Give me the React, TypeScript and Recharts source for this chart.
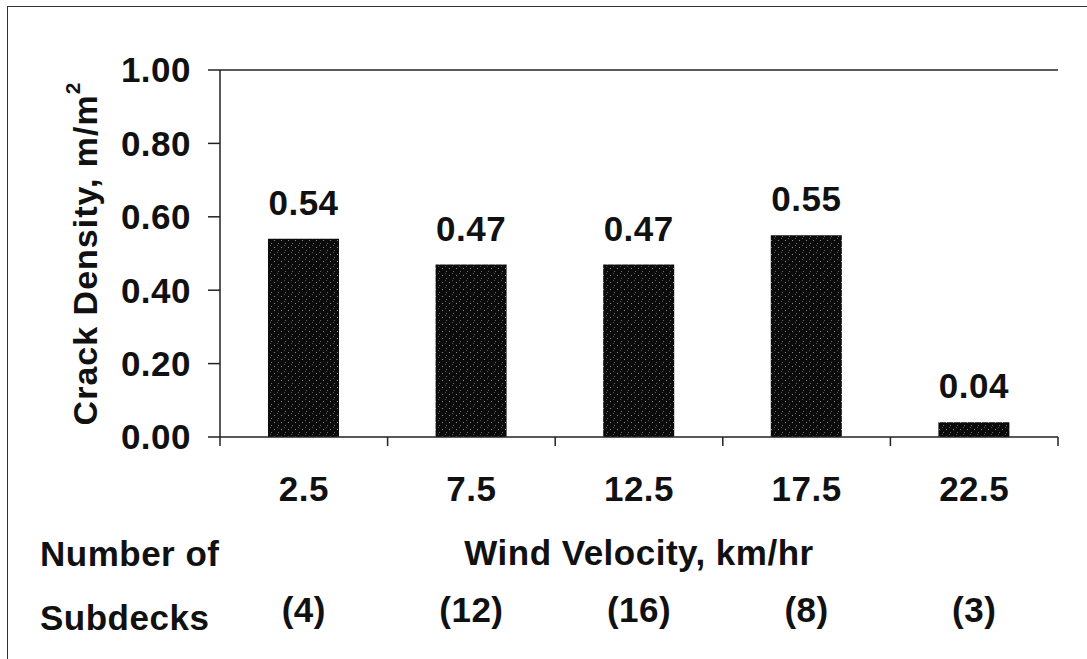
import React from "react";
import { BarChart, Bar, XAxis, YAxis, LabelList, ReferenceLine, Label } from "recharts";

// values
const windVelocity = ["2.5", "7.5", "12.5", "17.5", "22.5"];
const crackDensity = [0.54, 0.47, 0.47, 0.55, 0.04];
const subdeckCounts = [4, 12, 16, 8, 3];
const yTicks = [0, 0.2, 0.4, 0.6, 0.8, 1.0];
const boundaryTicks = [0, 1, 2, 3, 4, 5];

const data = windVelocity.map((w, i) => ({
  wind: w,
  density: crackDensity[i],
  subdecks: subdeckCounts[i],
  slot: i + 0.5,
}));

const FONT = "'Liberation Sans', Arial, sans-serif";
const INK = "#111";
const textStyle = {
  fontFamily: FONT,
  fontWeight: 700,
  fontSize: 35,
  letterSpacing: 0.5,
  fill: INK,
};

const WindTick = (props: any) => {
  const { x, y, payload } = props;
  return (
    <text x={x} y={y + 48} textAnchor="middle" style={textStyle}>
      {payload.value}
    </text>
  );
};

const CountTick = (props: any) => {
  const { x, y, payload } = props;
  return (
    <text x={x} y={y + 59} textAnchor="middle" style={textStyle}>
      ({payload.value})
    </text>
  );
};

export default function App() {
  return (
    <div
      style={{
        position: "fixed",
        top: 0,
        left: 0,
        width: 1087,
        height: 659,
        overflow: "hidden",
        background: "#fff",
      }}
    >
      <div
        style={{
          position: "absolute",
          left: 7,
          top: 6,
          width: 1200,
          height: 800,
          borderLeft: "1.5px solid #333",
          borderTop: "1.5px solid #333",
        }}
      />
      <div style={{ position: "absolute", left: 0, top: 0 }}>
        <BarChart
          width={1087}
          height={659}
          data={data}
          margin={{ top: 70, right: 29, left: 20, bottom: 0 }}
        >
          <defs>
            <pattern id="speckle" width="7" height="7" patternUnits="userSpaceOnUse">
              <rect width="7" height="7" fill="#0b0b0b" />
              <rect x="1" y="2" width="1" height="1" fill="#8a8a8a" />
              <rect x="5" y="5" width="1" height="1" fill="#6a6a6a" />
              <rect x="4" y="0" width="1" height="1" fill="#555" />
            </pattern>
          </defs>
          <XAxis
            xAxisId="a_frame"
            type="number"
            dataKey="slot"
            domain={[0, 5]}
            ticks={boundaryTicks}
            allowDataOverflow
            height={16}
            tickSize={9}
            tickFormatter={() => ""}
            axisLine={{ stroke: "#222", strokeWidth: 1.5 }}
            tickLine={{ stroke: "#222", strokeWidth: 1.5 }}
          />
          <XAxis
            xAxisId="b_wind"
            dataKey="wind"
            height={110}
            axisLine={false}
            tickLine={false}
            tickSize={0}
            tickMargin={0}
            tick={<WindTick />}
            interval={0}
          >
            <Label
              content={({ viewBox }: any) => (
                <text
                  x={viewBox.x + viewBox.width / 2}
                  y={viewBox.y + 112}
                  textAnchor="middle"
                  style={textStyle}
                >
                  Wind Velocity, km/hr
                </text>
              )}
            />
          </XAxis>
          <XAxis
            xAxisId="c_count"
            dataKey="subdecks"
            height={96}
            axisLine={false}
            tickLine={false}
            tickSize={0}
            tickMargin={0}
            tick={<CountTick />}
            interval={0}
          >
            <Label
              content={({ viewBox }: any) => (
                <text style={textStyle}>
                  <tspan x={40} y={viewBox.y + 3}>
                    Number of
                  </tspan>
                  <tspan x={40} y={viewBox.y + 67}>
                    Subdecks
                  </tspan>
                </text>
              )}
            />
          </XAxis>
          <YAxis
            width={200}
            domain={[0, 1]}
            ticks={yTicks}
            interval={0}
            tickFormatter={(v: number) => v.toFixed(2)}
            tick={{ ...textStyle }}
            tickSize={12}
            tickMargin={17}
            axisLine={{ stroke: "#222", strokeWidth: 1.5 }}
            tickLine={{ stroke: "#222", strokeWidth: 1.5 }}
          >
            <Label
              content={({ viewBox }: any) => {
                const cx = 85;
                const cy = viewBox.y + viewBox.height / 2;
                return (
                  <text
                    transform={`translate(${cx}, ${cy}) rotate(-90)`}
                    textAnchor="middle"
                    dominantBaseline="central"
                    style={{ ...textStyle, fontSize: 34, letterSpacing: 1 }}
                  >
                    Crack Density, m/m
                    <tspan dy={-13} style={{ fontSize: 21 }}>
                      2
                    </tspan>
                  </text>
                );
              }}
            />
          </YAxis>
          <YAxis
            yAxisId="frame"
            orientation="right"
            width={0}
            domain={[0, 1]}
            tick={false}
            axisLine={{ stroke: "#222", strokeWidth: 1.5 }}
          />
          <ReferenceLine y={1} stroke="#222" strokeWidth={1.5} xAxisId="b_wind" />
          <Bar
            dataKey="density"
            xAxisId="b_wind"
            fill="url(#speckle)"
            barSize={71}
            isAnimationActive={false}
          >
            <LabelList
              dataKey="density"
              position="top"
              offset={24}
              formatter={(v: any) => Number(v).toFixed(2)}
              style={textStyle}
            />
          </Bar>
        </BarChart>
      </div>
    </div>
  );
}
